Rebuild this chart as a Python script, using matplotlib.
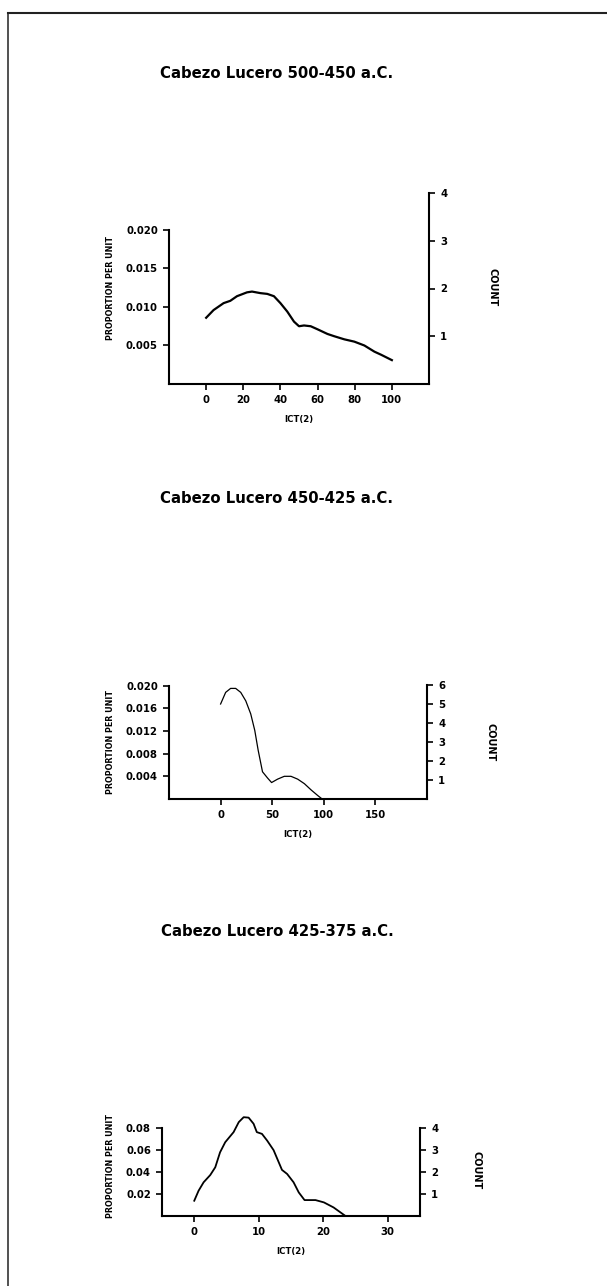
import matplotlib
matplotlib.use("Agg")
import matplotlib.pyplot as plt
from matplotlib.lines import Line2D

plt.rcParams['font.family'] = ['DejaVu Sans']
plt.rcParams['font.weight'] = 'bold'

# --- data ---
titles = ["Cabezo Lucero 500-450 a.C.",
          "Cabezo Lucero 450-425 a.C.",
          "Cabezo Lucero 425-375 a.C."]

ict_1 = [0, 4, 9.4, 13, 16.6, 22, 24.7, 29.2, 32.9, 36.5, 40, 43.7, 47.3, 50,
         52.7, 56.3, 60, 65.3, 69, 74.4, 79.8, 85.2, 90.6, 94.2, 100]
prop_1 = [0.0086, 0.0096, 0.0105, 0.0108, 0.0114, 0.0119, 0.0120, 0.0118, 0.0117,
          0.0114, 0.0105, 0.0094, 0.0081, 0.0075, 0.0076, 0.0075, 0.0071, 0.0065,
          0.0062, 0.0058, 0.0055, 0.0050, 0.0042, 0.0038, 0.0031]

ict_2 = [0, 4.9, 9.7, 14.6, 19.5, 24.4, 29.2, 33.1, 36.4, 40.6, 45.5, 49.4, 55.2,
         61.7, 68.2, 74.7, 81.2, 87.7, 94.2, 98.4]
prop_2 = [0.01675, 0.0188, 0.0195, 0.0195, 0.0188, 0.0173, 0.0150, 0.0121, 0.0086,
          0.0048, 0.0037, 0.0029, 0.0035, 0.0040, 0.0040, 0.0035, 0.0027, 0.0016,
          0.0006, 0.0]

ict_3 = [0, 0.67, 1.45, 2.48, 3.26, 4.0, 4.8, 6.1, 6.9, 7.66, 8.43, 9.2, 9.7, 10.5,
         11.3, 12.3, 13.6, 14.4, 15.4, 16.2, 17.1, 18.8, 20.1, 21.6, 23.4]
prop_3 = [0.0139, 0.023, 0.0307, 0.0373, 0.0444, 0.058, 0.0672, 0.0764, 0.0855,
          0.090, 0.0896, 0.084, 0.0764, 0.0748, 0.0687, 0.060, 0.042, 0.0383,
          0.0307, 0.0215, 0.0145, 0.0145, 0.0124, 0.0078, 0.0002]

xticks = [[0, 20, 40, 60, 80, 100], [0, 50, 100, 150], [0, 10, 20, 30]]
xlims = [(-20, 120), (-50, 200), (-5, 35)]
yticks_l = [[0.005, 0.010, 0.015, 0.020],
            [0.004, 0.008, 0.012, 0.016, 0.020],
            [0.02, 0.04, 0.06, 0.08]]
yticks_r = [[1, 2, 3, 4], [1, 2, 3, 4, 5, 6], [1, 2, 3, 4]]
ylims_l = [(0, 0.0248), (0, 0.0201), (0, 0.092)]
ylims_r = [(0, 4.0), (0, 6.0), (0, 4.6)]
ltop = [0.020, 0.020, 0.08]
rtop = [4, 6, 4]
lws = [1.6, 0.9, 1.3]

W, H = 607, 1286
fig = plt.figure(figsize=(W / 100, H / 100), dpi=100)

# axes boxes in pixels: left, right, bottom, top
boxes = [(169, 429, 384, 193), (169, 427, 799, 685), (162, 420, 1216, 1115)]
title_y = [73, 499, 931]
count_xy = [(492, 287), (490, 742), (477, 1170)]

xs = [ict_1, ict_2, ict_3]
ys = [prop_1, prop_2, prop_3]

for i in range(3):
    l, r, b, t = boxes[i]
    ax = fig.add_axes([l / W, 1 - b / H, (r - l) / W, (b - t) / H])
    ax.plot(xs[i], ys[i], color='black', lw=lws[i])
    ax.set_xlim(*xlims[i])
    ax.set_ylim(*ylims_l[i])
    ax.set_xticks(xticks[i])
    ax.set_yticks(yticks_l[i])
    ax.set_yticklabels([f"{v:.3f}" if i < 2 else f"{v:.2f}" for v in yticks_l[i]])
    ax.spines['top'].set_visible(False)
    ax.spines['right'].set_visible(False)
    ax.spines['left'].set_bounds(0, ltop[i])
    for s in ['left', 'bottom']:
        ax.spines[s].set_linewidth(1.5)
    ax.tick_params(direction='out', length=4, width=1.2, labelsize=7.3, pad=4)
    ax.set_xlabel("ICT(2)", fontsize=6.2, fontweight='bold', labelpad=7)
    ax.set_ylabel("PROPORTION PER UNIT", fontsize=5.8, fontweight='bold', labelpad=8)

    ax2 = ax.twinx()
    ax2.set_ylim(*ylims_r[i])
    ax2.set_yticks(yticks_r[i])
    for s in ['top', 'left', 'bottom']:
        ax2.spines[s].set_visible(False)
    ax2.spines['right'].set_bounds(0, rtop[i])
    ax2.spines['right'].set_linewidth(1.5)
    ax2.tick_params(direction='out', length=4, width=1.2, labelsize=7.3, pad=4)

    fig.text(277 / W, 1 - title_y[i] / H, titles[i], ha='center', va='center',
             fontsize=10.7, fontweight='bold')
    cx, cy = count_xy[i]
    fig.text(cx / W, 1 - cy / H, "COUNT", rotation=270, ha='center', va='center',
             fontsize=7, fontweight='bold')

# outer frame (left and top edges only, as in the scan)
fig.add_artist(Line2D([8 / W, 8 / W], [0, 1 - 13 / H], transform=fig.transFigure,
                      color='#333333', lw=1.2))
fig.add_artist(Line2D([8 / W, 1], [1 - 13 / H, 1 - 13 / H], transform=fig.transFigure,
                      color='#222222', lw=1.5))

fig.savefig("out.png", dpi=100)
